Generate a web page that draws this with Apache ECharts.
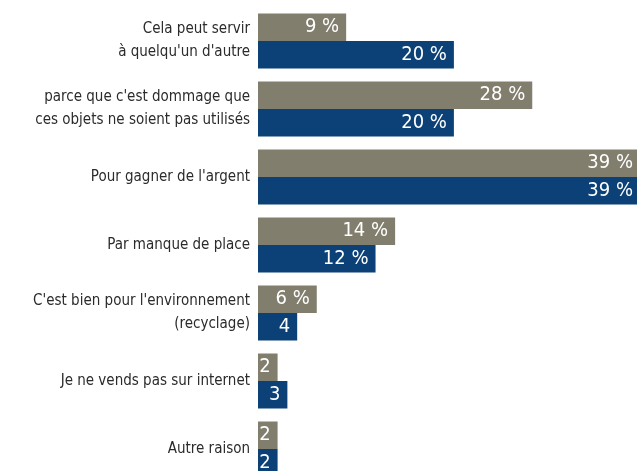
<!DOCTYPE html>
<html>
<head>
<meta charset="utf-8">
<script src="https://cdn.jsdelivr.net/npm/echarts@6/dist/echarts.min.js"></script>
<style>
  html, body { margin: 0; padding: 0; background: #fff; overflow: hidden; }
  #chart { width: 637px; height: 490px; }
</style>
</head>
<body>
<div id="chart"></div>
<script>
// reasons for selling, two groups (grey / navy)
const categories = [
  "Cela peut servir\nà quelqu'un d'autre",
  "parce que c'est dommage que\nces objets ne soient pas utilisés",
  "Pour gagner de l'argent",
  "Par manque de place",
  "C'est bien pour l'environnement\n(recyclage)",
  "Je ne vends pas sur internet",
  "Autre raison"
];
const greyValues = [9, 28, 39, 14, 6, 2, 2];
const navyValues = [20, 20, 39, 12, 4, 3, 2];
const greyLabels = ['9 %', '28 %', '39 %', '14 %', '6 %', '2', '2'];
const navyLabels = ['20 %', '20 %', '39 %', '12 %', '4', '3', '2'];

const FONT = '"Liberation Sans Narrow", "DejaVu Sans Condensed", sans-serif';

const chart = echarts.init(document.getElementById('chart'));

function valueLabel(texts) {
  return {
    show: true,
    position: 'insideRight',
    distance: 7,
    color: '#fff',
    fontFamily: FONT,
    fontSize: 20,
    formatter: (p) => texts[p.dataIndex]
  };
}

const option = {
  animation: false,
  backgroundColor: '#fff',
  grid: {
    left: 258, width: 382, top: 7, bottom: 7,
    containLabel: false,
    outerBoundsMode: 'none'
  },
  xAxis: {
    type: 'value',
    min: 0,
    max: 39,
    show: false
  },
  yAxis: {
    type: 'category',
    inverse: true,
    data: categories,
    axisLine: { show: false },
    axisTick: { show: false },
    axisLabel: {
      margin: 8,
      color: '#2b2b2b',
      fontFamily: FONT,
      fontSize: 15,
      lineHeight: 23,
      align: 'right'
    }
  },
  series: [
    {
      type: 'bar',
      data: greyValues,
      barWidth: 27.5,
      barGap: '0%',
      itemStyle: { color: '#817e6d' },
      label: valueLabel(greyLabels)
    },
    {
      type: 'bar',
      data: navyValues,
      barWidth: 27.5,
      itemStyle: { color: '#0b4177' },
      label: valueLabel(navyLabels)
    }
  ]
};

chart.setOption(option);
</script>
</body>
</html>
